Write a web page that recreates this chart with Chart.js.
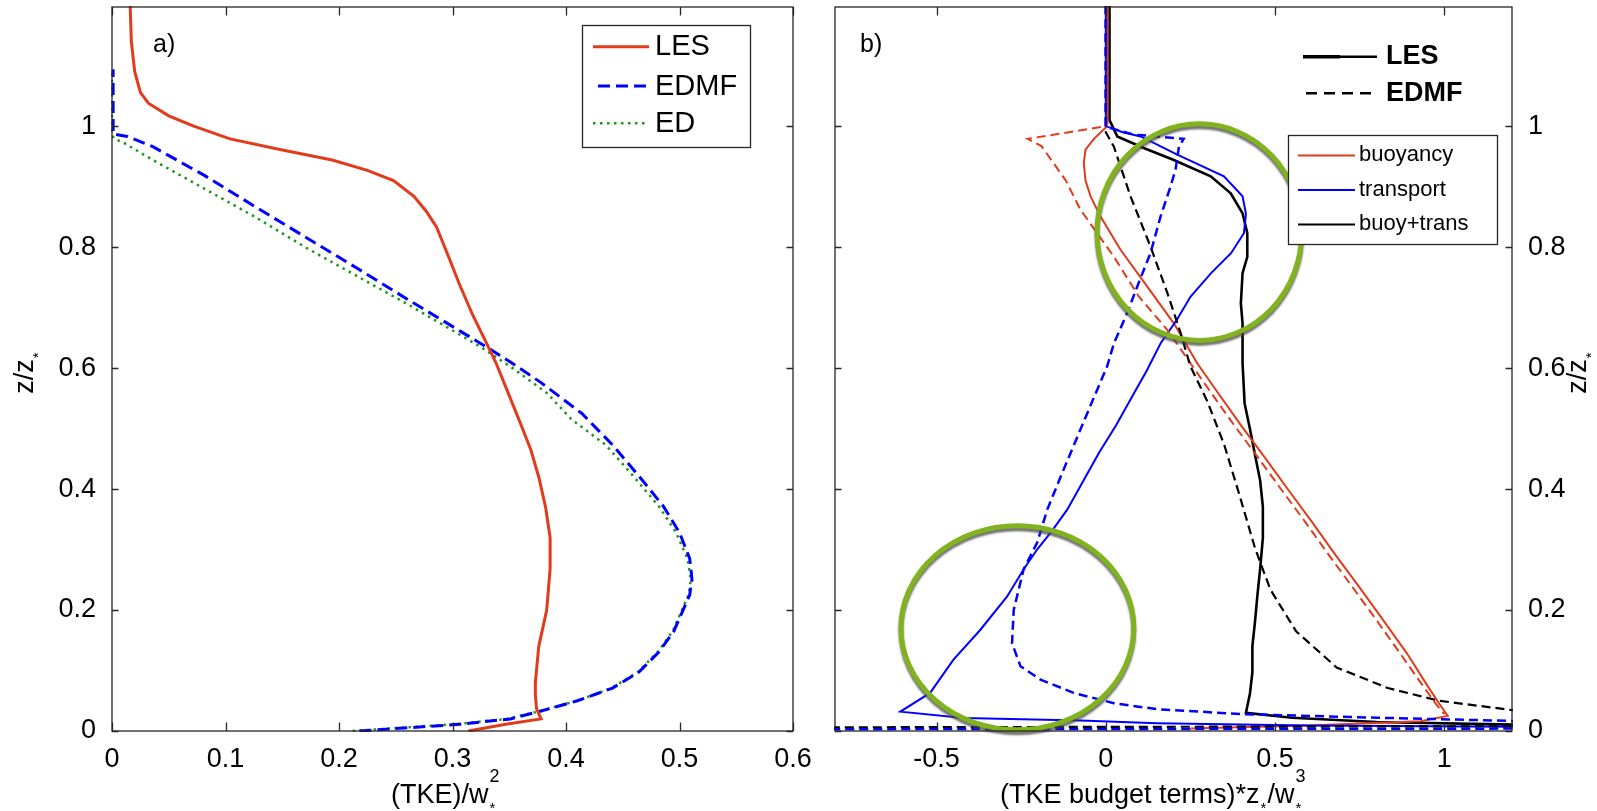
<!DOCTYPE html>
<html><head><meta charset="utf-8">
<script src="https://cdn.jsdelivr.net/npm/chart.js@4.4.0/dist/chart.umd.min.js"></script>
<style>
html,body{margin:0;padding:0;background:#fff;width:1597px;height:811px;overflow:hidden;}
canvas{position:absolute;top:0;}
#ca{left:0px;} #cb{left:800px;}
</style></head><body>
<canvas id="ca" width="830" height="811"></canvas>
<canvas id="cb" width="797" height="811"></canvas>
<script>
const FONT = '"Liberation Sans", Arial, Helvetica, sans-serif';

// ---------- ticks ----------
const tkeTicks = [0, 0.1, 0.2, 0.3, 0.4, 0.5, 0.6];
const budgetTicks = [-0.5, 0, 0.5, 1];
const zTicks = [0, 0.2, 0.4, 0.6, 0.8, 1];

// ---------- panel a: TKE profiles ----------
const lesTkeX = [0.314,0.347,0.378,0.374,0.373,0.373,0.376,0.383,0.386,0.386,0.382,0.376,0.369,0.360,0.349,0.338,0.329,0.318,0.306,0.297,0.286,0.277,0.266,0.248,0.225,0.194,0.149,0.104,0.072,0.050,0.032,0.025,0.020,0.017,0.016];
const lesTkeZ = [0,0.011,0.02,0.037,0.06,0.08,0.14,0.2,0.268,0.32,0.37,0.42,0.465,0.508,0.559,0.61,0.645,0.687,0.739,0.782,0.833,0.859,0.884,0.910,0.927,0.944,0.961,0.979,1.0,1.017,1.038,1.056,1.09,1.141,1.2];
const edmfTkeX = [0.218,0.306,0.351,0.378,0.410,0.441,0.464,0.482,0.495,0.509,0.511,0.509,0.500,0.486,0.468,0.441,0.414,0.378,0.351,0.329,0.306,0.261,0.216,0.171,0.126,0.081,0.036,0.0135,0.001,0.001];
const edmfTkeZ = [0,0.011,0.02,0.033,0.05,0.071,0.097,0.131,0.165,0.225,0.251,0.285,0.328,0.371,0.413,0.473,0.525,0.576,0.61,0.636,0.662,0.713,0.765,0.816,0.867,0.919,0.966,0.983,0.987,1.094];
const edTkeX = [0.212,0.300,0.348,0.377,0.410,0.440,0.463,0.481,0.494,0.508,0.510,0.507,0.497,0.482,0.459,0.435,0.405,0.383,0.353,0.324,0.261,0.216,0.171,0.126,0.081,0.036,0.009,0.002,0.0,0.0];
const edTkeZ = [0,0.011,0.02,0.033,0.05,0.071,0.097,0.131,0.165,0.225,0.251,0.285,0.328,0.371,0.422,0.473,0.515,0.559,0.60,0.636,0.705,0.752,0.799,0.85,0.897,0.944,0.974,0.979,0.985,1.09];

// ---------- panel b: TKE budget terms ----------
const buoyLesX = [0.005,0.005,0.0,-0.035,-0.06,-0.065,-0.06,-0.045,-0.016,0.043,0.122,0.201,0.27,0.33,0.40,0.47,0.54,0.61,0.68,0.75,0.82,0.89,0.95,0.985,1.01,0.93,0.6,0.25];
const buoyLesZ = [1.2,1.005,0.998,0.979,0.961,0.939,0.91,0.884,0.851,0.796,0.735,0.674,0.608,0.56,0.505,0.452,0.398,0.345,0.29,0.237,0.183,0.128,0.075,0.045,0.025,0.016,0.009,0.004];
const buoyEdmfX = [0.0,0.0,-0.231,-0.19,-0.118,-0.075,0.024,0.098,0.182,0.25,0.31,0.38,0.45,0.52,0.59,0.66,0.73,0.80,0.87,0.93,0.975,1.0];
const buoyEdmfZ = [1.2,1.0,0.979,0.967,0.91,0.862,0.784,0.718,0.663,0.608,0.56,0.505,0.452,0.398,0.345,0.29,0.237,0.183,0.128,0.08,0.045,0.028];
const transLesX = [0.0,0.0,0.05,0.103,0.211,0.349,0.404,0.414,0.408,0.37,0.311,0.25,0.21,0.162,0.122,0.075,0.03,-0.02,-0.065,-0.114,-0.16,-0.203,-0.243,-0.292,-0.371,-0.45,-0.519,-0.607,-0.42,-0.075,0.152,0.6,1.25];
const transLesZ = [1.2,1.0,0.99,0.983,0.953,0.917,0.884,0.855,0.823,0.79,0.757,0.718,0.68,0.641,0.597,0.55,0.505,0.46,0.415,0.366,0.33,0.3,0.267,0.222,0.167,0.118,0.063,0.032,0.0215,0.0175,0.013,0.009,0.007];
const transEdmfX = [0.0,0.0,0.083,0.152,0.23,0.216,0.206,0.191,0.162,0.132,0.093,0.063,0.024,0.004,-0.04,-0.085,-0.13,-0.173,-0.203,-0.243,-0.272,-0.277,-0.252,-0.193,-0.095,0.024,0.152,0.4,0.8,1.25,1.3,-0.85];
const transEdmfZ = [1.2,0.999,0.986,0.983,0.979,0.966,0.928,0.9,0.851,0.79,0.735,0.691,0.641,0.603,0.545,0.485,0.425,0.366,0.311,0.267,0.2,0.145,0.107,0.085,0.063,0.046,0.036,0.028,0.022,0.016,0.004,0.003];
const sumLesX = [0.011,0.011,0.034,0.112,0.201,0.31,0.369,0.404,0.418,0.418,0.404,0.399,0.404,0.404,0.41,0.426,0.441,0.456,0.464,0.464,0.456,0.448,0.441,0.433,0.433,0.426,0.414,0.55,0.8,1.25];
const sumLesZ = [1.2,1.01,0.983,0.964,0.944,0.917,0.889,0.856,0.823,0.784,0.757,0.707,0.674,0.608,0.542,0.499,0.456,0.414,0.371,0.319,0.268,0.225,0.182,0.14,0.097,0.0625,0.030,0.022,0.015,0.01];
const sumEdmfX = [0.0,0.0,0.024,0.073,0.132,0.182,0.221,0.25,0.30,0.35,0.396,0.441,0.486,0.562,0.682,0.833,0.984,1.195,1.3,1.3,-0.9];
const sumEdmfZ = [1.2,0.99,0.966,0.884,0.801,0.724,0.658,0.603,0.545,0.473,0.388,0.302,0.234,0.165,0.105,0.071,0.050,0.035,0.03,0.008,0.006];

// highlight circles (data units)
const circleCx = [0.2766, -0.2612];
const circleCz = [0.8248, 0.1707];
const circleRx = [0.3024, 0.344];
const circleRz = [0.179, 0.1686];

const RED = '#e23b1c', BLUE = '#0000ff', GREEN = '#1e961e', BLACK = '#000000', RING = '#80b31e';

function pts(xs, zs) { return xs.map((x, i) => ({ x: x, y: zs[i] })); }
function ds(xs, zs, color, width, dash) {
  return { data: pts(xs, zs), showLine: true, borderColor: color, backgroundColor: color,
    borderWidth: width, borderDash: dash || [], pointRadius: 0, fill: false, tension: 0, clip: 1 };
}
function fixTicks(arr) { return function (scale) { scale.ticks = arr.map(v => ({ value: v })); }; }
function fitBox(w, h) {
  return function (scale) {
    if (w != null) scale.width = w;
    if (h != null) scale.height = h;
    scale.paddingLeft = 0; scale.paddingRight = 0; scale.paddingTop = 0; scale.paddingBottom = 0;
  };
}
const tickFont = { family: FONT, size: 27 };

function richDraw(ctx, x, y, parts, base) {
  ctx.textAlign = 'left'; ctx.textBaseline = 'alphabetic'; ctx.fillStyle = '#000';
  let cx = x;
  for (const p of parts) {
    if (p.t !== undefined) {
      ctx.font = base + 'px ' + FONT; ctx.fillText(p.t, cx, y); cx += ctx.measureText(p.t).width;
    } else {
      let w = 0;
      if (p.sup) { ctx.font = Math.round(base * 0.66) + 'px ' + FONT; ctx.fillText(p.sup, cx + 1, y - base * 0.78); w = Math.max(w, ctx.measureText(p.sup).width); }
      if (p.sub) { ctx.font = Math.round(base * 0.55) + 'px ' + FONT; ctx.fillText(p.sub, cx + 1, y + base * 0.38); w = Math.max(w, ctx.measureText(p.sub).width); }
      cx += w + 2;
    }
  }
  return cx - x;
}

function frameTicks(chart, xTicks, yTicks) {
  const ctx = chart.ctx, a = chart.chartArea, xs = chart.scales.x, ys = chart.scales.y;
  ctx.save();
  ctx.strokeStyle = '#262626'; ctx.lineWidth = 1.3; ctx.setLineDash([]);
  ctx.strokeRect(a.left, a.top, a.right - a.left, a.bottom - a.top);
  ctx.beginPath();
  for (const v of xTicks) {
    const px = Math.round(xs.getPixelForValue(v)) + 0.5;
    ctx.moveTo(px, a.bottom); ctx.lineTo(px, a.bottom - 8.5);
    ctx.moveTo(px, a.top); ctx.lineTo(px, a.top + 8.5);
  }
  for (const v of yTicks) {
    const py = Math.round(ys.getPixelForValue(v)) + 0.5;
    ctx.moveTo(a.left, py); ctx.lineTo(a.left + 6.5, py);
    ctx.moveTo(a.right, py); ctx.lineTo(a.right - 6.5, py);
  }
  ctx.stroke();
  ctx.restore();
}

function drawYTitle(ctx, baseX, cy) {
  ctx.save();
  ctx.translate(baseX, cy);
  ctx.rotate(-Math.PI / 2);
  ctx.font = '27px ' + FONT;
  const w = ctx.measureText('z/z').width + 9;
  richDraw(ctx, -w / 2, 0, [{ t: 'z/z' }, { sub: '*' }], 27);
  ctx.restore();
}

function lineSample(ctx, x1, x2, y, color, width, dash) {
  ctx.save(); ctx.strokeStyle = color; ctx.lineWidth = width; ctx.setLineDash(dash || []);
  ctx.beginPath(); ctx.moveTo(x1, y); ctx.lineTo(x2, y); ctx.stroke(); ctx.restore();
}

const decoA = {
  id: 'decoA',
  afterDraw(chart) {
    const ctx = chart.ctx;
    frameTicks(chart, tkeTicks, zTicks);
    ctx.save();
    ctx.fillStyle = '#fff'; ctx.fillRect(582, 25, 169, 122);
    ctx.strokeStyle = '#262626'; ctx.lineWidth = 1.3; ctx.strokeRect(582.5, 25.5, 168, 122);
    lineSample(ctx, 593, 649, 46.7, RED, 3, []);
    lineSample(ctx, 598, 649, 86, BLUE, 3, [12, 6]);
    lineSample(ctx, 593, 649, 123.3, GREEN, 2.5, [2.5, 4.5]);
    ctx.fillStyle = '#000'; ctx.font = '29px ' + FONT; ctx.textAlign = 'left'; ctx.textBaseline = 'middle';
    ctx.fillText('LES', 655, 47);
    ctx.fillText('EDMF', 655, 86.5);
    ctx.fillText('ED', 655, 124);
    ctx.font = '25px ' + FONT; ctx.textBaseline = 'alphabetic';
    ctx.fillText('a)', 153, 52);
    ctx.restore();
    richDraw(ctx, 391, 803, [{ t: '(TKE)/w' }, { sup: '2', sub: '*' }], 27);
    drawYTitle(ctx, 33, 372);
  }
};

const OFF = 800;
const decoB = {
  id: 'decoB',
  afterDatasetsDraw(chart) {
    const ctx = chart.ctx, xs = chart.scales.x, ys = chart.scales.y;
    ctx.save();
    ctx.strokeStyle = RING; ctx.lineWidth = 5; ctx.setLineDash([]);
    ctx.shadowColor = 'rgba(70,70,70,0.75)'; ctx.shadowOffsetX = 0; ctx.shadowOffsetY = 3; ctx.shadowBlur = 2;
    for (let i = 0; i < circleCx.length; i++) {
      const cx = xs.getPixelForValue(circleCx[i]), cy = ys.getPixelForValue(circleCz[i]);
      const rx = xs.getPixelForValue(circleCx[i] + circleRx[i]) - cx;
      const ry = cy - ys.getPixelForValue(circleCz[i] + circleRz[i]);
      ctx.beginPath(); ctx.ellipse(cx, cy, rx, ry, 0, 0, Math.PI * 2); ctx.stroke();
    }
    ctx.restore();
  },
  afterDraw(chart) {
    const ctx = chart.ctx;
    frameTicks(chart, budgetTicks, zTicks);
    ctx.save();
    lineSample(ctx, 1303 - OFF, 1340 - OFF, 56.7, BLACK, 3.5, []);
    lineSample(ctx, 1338 - OFF, 1377 - OFF, 56.7, BLACK, 2.5, []);
    lineSample(ctx, 1306 - OFF, 1377 - OFF, 93.3, BLACK, 2.5, [11, 7]);
    ctx.fillStyle = '#000'; ctx.font = 'bold 27px ' + FONT; ctx.textAlign = 'left'; ctx.textBaseline = 'middle';
    ctx.fillText('LES', 1386 - OFF, 57);
    ctx.fillText('EDMF', 1386 - OFF, 94);
    ctx.fillStyle = '#fff'; ctx.fillRect(1288 - OFF, 135, 209, 110);
    ctx.strokeStyle = '#262626'; ctx.lineWidth = 1.3; ctx.strokeRect(1288.5 - OFF, 135.5, 209, 109);
    lineSample(ctx, 1298 - OFF, 1355 - OFF, 155.5, RED, 2, []);
    lineSample(ctx, 1298 - OFF, 1355 - OFF, 190, BLUE, 2, []);
    lineSample(ctx, 1298 - OFF, 1355 - OFF, 224.5, BLACK, 2, []);
    ctx.fillStyle = '#000'; ctx.font = '22px ' + FONT; ctx.textBaseline = 'middle';
    ctx.fillText('buoyancy', 1359 - OFF, 155);
    ctx.fillText('transport', 1359 - OFF, 190);
    ctx.fillText('buoy+trans', 1359 - OFF, 224);
    ctx.font = '25px ' + FONT; ctx.textBaseline = 'alphabetic';
    ctx.fillText('b)', 860 - OFF, 52);
    ctx.restore();
    richDraw(ctx, 1000 - OFF, 803, [{ t: '(TKE budget terms)*z' }, { sub: '*' }, { t: '/w' }, { sup: '3', sub: '*' }], 27);
    drawYTitle(ctx, 1586 - OFF, 372);
  }
};

function makeChart(id, datasets, xCfg, yCfg, padding, plugin) {
  return new Chart(document.getElementById(id), {
    type: 'scatter',
    data: { datasets: datasets },
    options: {
      responsive: false, animation: false, devicePixelRatio: 1, events: [],
      layout: { padding: padding },
      plugins: { legend: { display: false }, tooltip: { enabled: false } },
      scales: { x: xCfg, y: yCfg }
    },
    plugins: [plugin]
  });
}

const zScaleBase = (pos, width) => ({
  type: 'linear', position: pos, min: 0, max: 1.197,
  grid: { display: false }, border: { display: false },
  ticks: { font: tickFont, color: '#000', padding: 8, autoSkip: false, callback: v => String(v) },
  afterBuildTicks: fixTicks(zTicks), afterFit: fitBox(width, null)
});

const xTickOpts = { font: tickFont, color: '#000', padding: 4, autoSkip: false, maxRotation: 0, callback: v => String(v) };

makeChart('ca',
  [
    ds(lesTkeX, lesTkeZ, RED, 3, []),
    ds(edmfTkeX, edmfTkeZ, BLUE, 3, [12, 6]),
    ds(edTkeX, edTkeZ, GREEN, 2.5, [2.5, 4.5])
  ],
  { type: 'linear', position: 'bottom', min: 0, max: 0.6,
    grid: { display: false }, border: { display: false },
    ticks: xTickOpts, afterBuildTicks: fixTicks(tkeTicks), afterFit: fitBox(null, 80) },
  zScaleBase('left', 112),
  { top: 7, right: 37, left: 0, bottom: 0 },
  decoA);

makeChart('cb',
  [
    ds(transEdmfX, transEdmfZ, BLUE, 2.5, [9, 5]),
    ds(sumEdmfX, sumEdmfZ, BLACK, 2.2, [9, 5]),
    ds(buoyEdmfX, buoyEdmfZ, RED, 2, [9, 5]),
    ds(transLesX, transLesZ, BLUE, 2, []),
    ds(buoyLesX, buoyLesZ, RED, 2, []),
    ds(sumLesX, sumLesZ, BLACK, 2.6, [])
  ],
  { type: 'linear', position: 'bottom', min: -0.8, max: 1.2,
    grid: { display: false }, border: { display: false },
    ticks: xTickOpts, afterBuildTicks: fixTicks(budgetTicks), afterFit: fitBox(null, 80) },
  zScaleBase('right', 85),
  { top: 7, right: 0, left: 35, bottom: 0 },
  decoB);
</script>
</body></html>
